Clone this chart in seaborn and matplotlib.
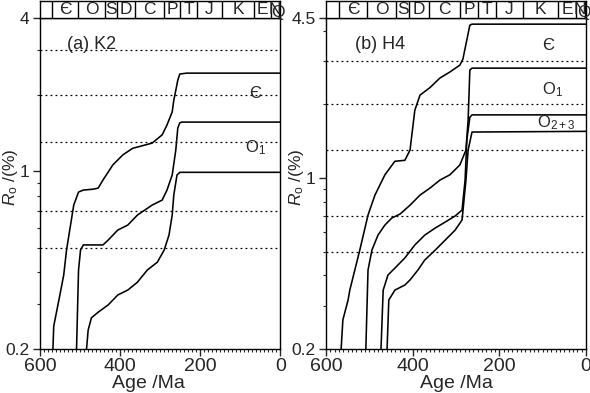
import numpy as np
import pandas as pd
import seaborn as sns
import matplotlib.pyplot as plt
from matplotlib.ticker import LogLocator, MultipleLocator, NullFormatter

# geological time scale (Ma)
period_bounds = [600, 570, 505, 438, 408, 362, 290, 250, 208, 146, 65, 23, 2, 0]
period_labels = ["", "Є", "O", "S", "D", "C", "P", "T", "J", "K", "E", "N", "Q"]

# Ro reference levels (dotted lines)
ro_levels = [0.5, 0.7, 1.3, 2.0, 3.0]

# (a) K2 maturity curves
k2_cam_age = [568, 566, 553, 541, 534, 524, 516, 504, 492, 467, 455, 443, 418, 393, 369, 344, 320, 295, 283, 270, 266, 261, 256, 251, 234, 0]
k2_cam_ro = [0.20, 0.246, 0.312, 0.391, 0.49, 0.614, 0.736, 0.828, 0.843, 0.85, 0.858, 0.923, 1.06, 1.16, 1.23, 1.26, 1.29, 1.39, 1.52, 1.71, 1.90, 2.08, 2.28, 2.41, 2.43, 2.43]
k2_o1_age = [509, 504, 499, 492, 443, 430, 406, 381, 357, 320, 295, 283, 270, 261, 256, 251, 246, 0]
k2_o1_ro = [0.20, 0.409, 0.49, 0.513, 0.513, 0.536, 0.587, 0.614, 0.672, 0.736, 0.77, 0.843, 0.966, 1.21, 1.48, 1.55, 1.56, 1.56]
k2_o23_age = [484, 480, 472, 455, 430, 406, 381, 357, 332, 307, 290, 278, 270, 266, 258, 251, 0]
k2_o23_ro = [0.20, 0.237, 0.265, 0.279, 0.298, 0.326, 0.341, 0.366, 0.409, 0.439, 0.49, 0.561, 0.672, 0.806, 0.966, 0.99, 0.99]

# (b) H4 maturity curves
h4_cam_age = [565, 561, 549, 545, 522, 503, 487, 464, 441, 418, 406, 395, 383, 360, 337, 314, 291, 284, 268, 263, 0]
h4_cam_ro = [0.20, 0.263, 0.317, 0.348, 0.507, 0.705, 0.851, 1.03, 1.17, 1.18, 1.30, 1.89, 2.18, 2.34, 2.56, 2.71, 2.89, 3.06, 4.21, 4.25, 4.25]
h4_o1_age = [508, 503, 494, 480, 464, 448, 429, 406, 383, 360, 337, 314, 291, 277, 272, 268, 263, 0]
h4_o1_ro = [0.20, 0.42, 0.507, 0.584, 0.642, 0.686, 0.712, 0.774, 0.851, 0.909, 0.98, 1.03, 1.13, 1.30, 1.72, 2.76, 2.81, 2.81]
h4_o2_age = [473, 468, 457, 441, 418, 395, 372, 348, 325, 302, 286, 279, 275, 268, 263, 0]
h4_o2_ro = [0.20, 0.348, 0.401, 0.428, 0.471, 0.532, 0.584, 0.624, 0.66, 0.699, 0.739, 0.98, 1.43, 1.77, 1.81, 1.81]
h4_o3_age = [459, 455, 441, 418, 406, 388, 372, 348, 325, 302, 286, 277, 272, 263, 0]
h4_o3_ro = [0.20, 0.317, 0.348, 0.365, 0.383, 0.42, 0.462, 0.507, 0.557, 0.612, 0.673, 0.98, 1.30, 1.54, 1.55]


def to_long(curves):
    frames = []
    for name, (age, ro) in curves.items():
        frames.append(pd.DataFrame({"age": age, "ro": ro, "curve": name}))
    return pd.concat(frames, ignore_index=True)


df_k2 = to_long({"cam": (k2_cam_age, k2_cam_ro), "o1": (k2_o1_age, k2_o1_ro),
                 "o23": (k2_o23_age, k2_o23_ro)})
df_h4 = to_long({"cam": (h4_cam_age, h4_cam_ro), "o1": (h4_o1_age, h4_o1_ro),
                 "o2": (h4_o2_age, h4_o2_ro), "o3": (h4_o3_age, h4_o3_ro)})

sns.set_style("ticks")
plt.rcParams['font.family'] = ['Liberation Sans', 'DejaVu Sans']
plt.rcParams['mathtext.fontset'] = 'custom'
plt.rcParams['mathtext.rm'] = 'Liberation Sans'
plt.rcParams['mathtext.it'] = 'Liberation Sans:italic'

fig = plt.figure(figsize=(5.9, 3.93), dpi=100)


def draw_panel(rect, df, ymax, ytop_label, title, labels, xlab_x, ylab_x):
    x0, y0, w, h = rect
    ax = fig.add_axes([x0, y0, w, h])
    strip = fig.add_axes([x0, y0 + h, w, 0.043])

    for v in ro_levels:
        ax.axhline(v, color="black", ls=(0, (1.5, 2.5)), lw=0.9)
    sns.lineplot(data=df, x="age", y="ro", units="curve", estimator=None,
                 sort=False, color="black", lw=1.15, ax=ax)

    ax.set_yscale("log")
    ax.set_xlim(600, 0)
    ax.set_ylim(0.2, ymax)
    ax.set_xticks([600, 400, 200, 0])
    ax.xaxis.set_minor_locator(MultipleLocator(10))
    ax.set_yticks([0.2, 1, ymax], labels=["0.2", "1", ytop_label])
    ax.yaxis.set_minor_locator(LogLocator(base=10, subs=np.arange(2, 10)))
    ax.yaxis.set_minor_formatter(NullFormatter())
    ax.tick_params(axis="x", which="major", length=5, width=1, labelsize=14, pad=1.5)
    ax.tick_params(axis="y", which="major", length=5, width=1, labelsize=12.5, pad=2.5)
    ax.tick_params(which="minor", length=2.5, width=0.8)
    for s in ax.spines.values():
        s.set_color("black")
        s.set_linewidth(1)

    ax.set_xlabel("Age /Ma", fontsize=14)
    ax.xaxis.set_label_coords(xlab_x, -0.08)
    ax.set_ylabel("$R_\\mathrm{o}$ /(%)", fontsize=12.5)
    ax.yaxis.set_label_coords(ylab_x, 0.52)

    ax.text(0.11, 0.92, title, transform=ax.transAxes, fontsize=13, va="center")
    for txt, age, ro in labels:
        ax.text(age, ro, txt, fontsize=12, ha="center", va="center")

    # geological time strip
    strip.set_xlim(600, 0)
    strip.set_ylim(0, 1)
    strip.set_xticks([])
    strip.set_yticks([])
    for s in strip.spines.values():
        s.set_color("black")
        s.set_linewidth(1)
    for b in period_bounds[1:-1]:
        strip.axvline(b, color="black", lw=1)
    for i, lab in enumerate(period_labels):
        left, right = period_bounds[i], period_bounds[i + 1]
        mid = (left + right) / 2
        yy = 0.5
        if lab == "N":
            mid = 13
        if lab == "Q":
            mid, yy = 5, 0.35
        strip.text(mid, yy, lab, ha="center", va="center", fontsize=12.5)
    return ax


draw_panel([0.068, 0.112, 0.407, 0.842], df_k2, 4, "4", "(a) K2",
           [("Є", 62, 2.02), ("O$_1$", 62, 1.24)], 0.45, -0.082)
draw_panel([0.5525, 0.112, 0.4407, 0.842], df_h4, 4.5, "4.5", "(b) H4",
           [("Є", 88, 3.49), ("O$_1$", 78, 2.29), ("O$_{2+3}$", 69, 1.69)], 0.5, -0.075)

fig.savefig("out.png", dpi=100)
